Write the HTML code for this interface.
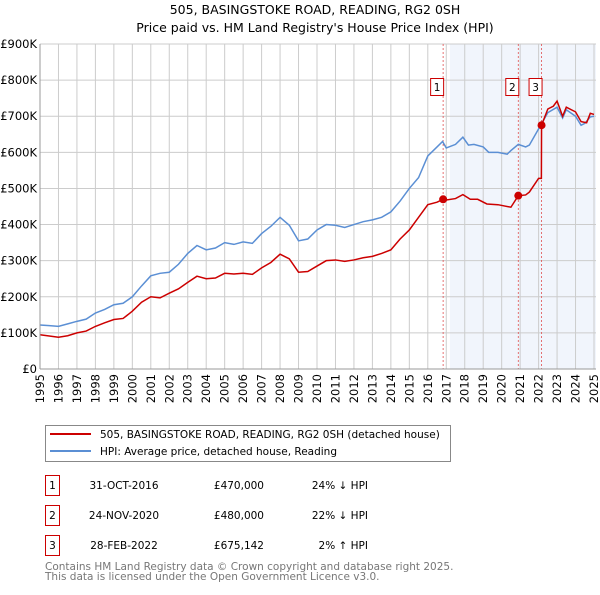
<!DOCTYPE html>
<html><head><meta charset="utf-8"><style>
body{margin:0;background:#fff;font-family:"Liberation Sans","DejaVu Sans",sans-serif;}
svg text{font-family:"DejaVu Sans","Liberation Sans",sans-serif;}
</style></head><body>
<svg id="c" width="600" height="590" xmlns="http://www.w3.org/2000/svg">
<text x="315" y="14" text-anchor="middle" font-size="12.5">505, BASINGSTOKE ROAD, READING, RG2 0SH</text>
<text x="315" y="32" text-anchor="middle" font-size="12.5">Price paid vs. HM Land Registry's House Price Index (HPI)</text>
<g id="plot"></g>
<g>
<rect x="45.5" y="425.5" width="405" height="36" fill="#fff" stroke="#888"/>
<line x1="50" y1="434" x2="91" y2="434" stroke="#cc0000" stroke-width="2"/>
<text x="100" y="438" font-size="10.5">505, BASINGSTOKE ROAD, READING, RG2 0SH (detached house)</text>
<line x1="50" y1="451" x2="91" y2="451" stroke="#5b8fd4" stroke-width="2"/>
<text x="100" y="455" font-size="10.5">HPI: Average price, detached house, Reading</text>
</g>
<g font-size="10.5">
<rect x="45.5" y="475.5" width="14" height="20" fill="#fff" stroke="#cc0000"/><text x="52.5" y="489" text-anchor="middle">1</text>
<text x="124" y="489" text-anchor="middle">31-OCT-2016</text><text x="264" y="489" text-anchor="end">£470,000</text><text x="368" y="489" text-anchor="end">24% ↓ HPI</text>
<rect x="45.5" y="505.5" width="14" height="20" fill="#fff" stroke="#cc0000"/><text x="52.5" y="519" text-anchor="middle">2</text>
<text x="124" y="519" text-anchor="middle">24-NOV-2020</text><text x="264" y="519" text-anchor="end">£480,000</text><text x="368" y="519" text-anchor="end">22% ↓ HPI</text>
<rect x="45.5" y="535.5" width="14" height="20" fill="#fff" stroke="#cc0000"/><text x="52.5" y="549" text-anchor="middle">3</text>
<text x="124" y="549" text-anchor="middle">28-FEB-2022</text><text x="264" y="549" text-anchor="end">£675,142</text><text x="368" y="549" text-anchor="end">2% ↑ HPI</text>
</g>
<text x="45" y="570" font-size="10.5" fill="#777">Contains HM Land Registry data © Crown copyright and database right 2025.</text>
<text x="45" y="580" font-size="10.5" fill="#777">This data is licensed under the Open Government Licence v3.0.</text>
</svg>
<script>
const yTicks=[0,100,200,300,400,500,600,700,800,900];
const yTickLabels=["£0","£100K","£200K","£300K","£400K","£500K","£600K","£700K","£800K","£900K"];
const years=[1995,1996,1997,1998,1999,2000,2001,2002,2003,2004,2005,2006,2007,2008,2009,2010,2011,2012,2013,2014,2015,2016,2017,2018,2019,2020,2021,2022,2023,2024,2025];
const hpiT=[1995,1995.5,1996,1996.5,1997,1997.5,1998,1998.5,1999,1999.5,2000,2000.5,2001,2001.5,2002,2002.5,2003,2003.5,2004,2004.5,2005,2005.5,2006,2006.5,2007,2007.5,2008,2008.5,2009,2009.5,2010,2010.5,2011,2011.5,2012,2012.5,2013,2013.5,2014,2014.5,2015,2015.5,2016,2016.5,2016.8,2017,2017.5,2017.9,2018.2,2018.5,2019,2019.3,2019.8,2020.3,2020.5,2020.9,2021.3,2021.5,2022,2022.5,2023,2023.3,2023.5,2024,2024.3,2024.5,2024.8,2025];
const hpiV=[122,120,118,125,132,138,155,165,178,182,200,230,258,265,268,290,320,342,330,335,350,345,352,348,375,395,420,398,355,360,385,400,398,392,400,408,413,420,435,465,500,530,590,615,630,612,622,642,620,622,615,600,600,595,605,622,615,620,665,710,725,695,718,700,675,680,698,700];
const ppT=[1995,1996,1996.5,1997,1997.5,1998,1998.5,1999,1999.5,2000,2000.5,2001,2001.5,2002,2002.5,2003,2003.5,2004,2004.5,2005,2005.5,2006,2006.5,2007,2007.5,2008,2008.5,2009,2009.5,2010,2010.5,2011,2011.5,2012,2012.5,2013,2013.5,2014,2014.5,2015,2015.5,2016,2016.5,2016.83,2017,2017.5,2017.9,2018.3,2018.7,2019.2,2019.8,2020.5,2020.9,2021.3,2021.5,2022.0,2022.15,2022.16,2022.5,2022.8,2023,2023.3,2023.5,2024,2024.3,2024.6,2024.8,2025];
const ppV=[95,88,92,100,105,118,128,137,140,160,185,200,197,210,222,240,257,250,252,265,263,265,262,280,295,318,305,268,270,285,300,302,298,302,308,312,320,330,360,385,420,455,462,470,468,472,483,470,470,457,455,448,480,482,490,528,528,675,720,728,742,700,725,712,685,682,708,705];
const saleT=[2016.83,2020.9,2022.16];
const saleV=[470,480,675.142];
const saleLabels=["1","2","3"];
const shadeStart=2017.2;

const X0=40,X1=594,Y0=369,Y1=44;
const xs=t=>X0+(t-1995)/30*(X1-X0);
const ys=v=>Y0-v/900*(Y0-Y1);
const NS="http://www.w3.org/2000/svg";
const g=document.getElementById('plot');
function mk(tag,attrs,parent){const e=document.createElementNS(NS,tag);for(const k in attrs)e.setAttribute(k,attrs[k]);(parent||g).appendChild(e);return e;}
const sh=mk('rect',{x:xs(shadeStart),y:Y1,width:X1+2-xs(shadeStart),height:Y0-Y1,fill:'#eef3fb',opacity:0.8});


yTicks.forEach((v,i)=>{
 const l=mk('line',{x1:X0,x2:X1+2,y1:ys(v),y2:ys(v),stroke:'#ccc'});
 
 
 const t=mk('text',{x:X0-3,y:ys(v)+4,'text-anchor':'end','font-size':'11.5'});t.textContent=yTickLabels[i];
 
 
});
years.forEach(y=>{
 const l=mk('line',{x1:xs(y),x2:xs(y),y1:Y1,y2:Y0,stroke:'#ccc'});
 
 
 const t=mk('text',{x:0,y:0,'text-anchor':'end','font-size':'11.5',transform:`translate(${xs(y)+4},${Y0+5}) rotate(-90)`});t.textContent=y;
 
 
});
saleT.forEach((t,i)=>{
 const l=mk('line',{x1:xs(t),x2:xs(t),y1:Y1,y2:Y0,stroke:'#e05050','stroke-dasharray':'2,2','stroke-width':0.8});
 
 
});
const hp=mk('polyline',{points:hpiT.map((t,i)=>xs(t)+','+ys(hpiV[i])).join(' '),fill:'none',stroke:'#5b8fd4','stroke-width':1.5});


const pp=mk('polyline',{points:ppT.map((t,i)=>xs(t)+','+ys(ppV[i])).join(' '),fill:'none',stroke:'#cc0000','stroke-width':1.5});


saleT.forEach((t,i)=>{
 const c=mk('circle',{cx:xs(t),cy:ys(saleV[i]),r:4,fill:'#cc0000'});
 
 
 const r=mk('rect',{x:xs(t)-12.5,y:78.5,width:13,height:17,fill:'#fff',stroke:'#cc0000'});
 
 
 const tx=mk('text',{x:xs(t)-6,y:91,'text-anchor':'middle','font-size':'10.5'});tx.textContent=saleLabels[i];
 
 
});
const ax=mk('line',{x1:X0,x2:X1+2,y1:Y0,y2:Y0,stroke:'#999'});


const ay=mk('line',{x1:X0,x2:X0,y1:Y1,y2:Y0,stroke:'#999'});


</script>
</body></html>
